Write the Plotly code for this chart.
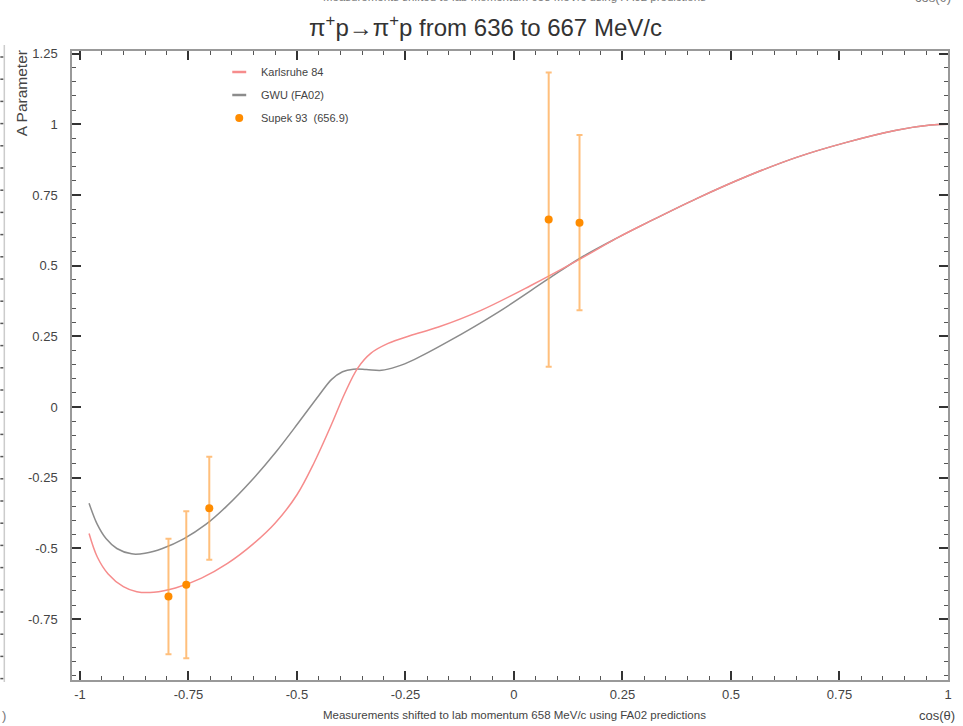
import plotly.graph_objects as go

# ---- Karlsruhe 84 partial-wave prediction (A parameter vs cos theta)
kh_cos = [-0.979, -0.960, -0.935, -0.900, -0.869, -0.830, -0.780, -0.720, -0.660,
          -0.600, -0.550, -0.500, -0.460, -0.420, -0.390, -0.360, -0.330, -0.290,
          -0.240, -0.174, -0.076, 0.039, 0.154, 0.239, 0.307, 0.422, 0.537, 0.651,
          0.766, 0.881, 0.960, 1.0]
kh_a = [-0.447, -0.530, -0.590, -0.635, -0.653, -0.655, -0.640, -0.605, -0.553,
        -0.483, -0.410, -0.310, -0.195, -0.060, 0.048, 0.138, 0.190, 0.225,
        0.252, 0.283, 0.342, 0.430, 0.525, 0.599, 0.652, 0.738, 0.816, 0.883,
        0.936, 0.979, 0.997, 1.0]

# ---- GWU (FA02) prediction
gwu_cos = [-0.979, -0.960, -0.940, -0.915, -0.881, -0.850, -0.810, -0.760, -0.710,
           -0.663, -0.603, -0.548, -0.495, -0.450, -0.420, -0.395, -0.370, -0.340,
           -0.305, -0.270, -0.230, -0.151, -0.037, 0.078, 0.154, 0.239, 0.307,
           0.422, 0.537, 0.651, 0.766, 0.881, 0.960, 1.0]
gwu_a = [-0.340, -0.415, -0.465, -0.500, -0.519, -0.517, -0.500, -0.465, -0.415,
         -0.352, -0.257, -0.158, -0.052, 0.040, 0.098, 0.125, 0.134, 0.133,
         0.130, 0.143, 0.168, 0.232, 0.335, 0.452, 0.528, 0.599, 0.652,
         0.738, 0.816, 0.883, 0.936, 0.979, 0.997, 1.0]

# ---- Supek 93 measurements (656.9 MeV/c)
sup_cos = [-0.796, -0.755, -0.702, 0.080, 0.151]
sup_a = [-0.670, -0.628, -0.358, 0.663, 0.652]
sup_err = [0.204, 0.260, 0.182, 0.520, 0.310]

x_ticks = [-1, -0.75, -0.5, -0.25, 0, 0.25, 0.5, 0.75, 1]
x_labels = ["-1", "-0.75", "-0.5", "-0.25", "0", "0.25", "0.5", "0.75", "1"]
y_ticks = [-0.75, -0.5, -0.25, 0, 0.25, 0.5, 0.75, 1, 1.25]
y_labels = ["-0.75", "-0.5", "-0.25", "0", "0.25", "0.5", "0.75", "1", "1.25"]

RED = "rgb(246,140,140)"
GRAY = "rgb(140,140,140)"
ORANGE = "rgb(255,140,0)"
ORANGE_BAR = "rgba(255,170,80,0.75)"
FONT = "Liberation Sans, Arial, sans-serif"
TXT = "#444"

W, H = 963, 726
ML, MR, MT, MB = 72, 11, 51, 46
PW, PH = W - ML - MR, H - MT - MB


def px(x):
    return (x - ML) / PW


def py(y):
    return (H - MB - y) / PH


fig = go.Figure()
fig.add_trace(go.Scatter(x=gwu_cos, y=gwu_a, mode="lines", name="GWU (FA02)",
                         line=dict(color=GRAY, width=1.5, shape="spline", smoothing=1.0),
                         showlegend=False))
fig.add_trace(go.Scatter(x=kh_cos, y=kh_a, mode="lines", name="Karlsruhe 84",
                         line=dict(color=RED, width=1.5, shape="spline", smoothing=1.0),
                         showlegend=False))
fig.add_trace(go.Scatter(x=sup_cos, y=sup_a, mode="markers", name="Supek 93  (656.9)",
                         marker=dict(color=ORANGE, size=8),
                         error_y=dict(type="data", array=sup_err, color=ORANGE_BAR,
                                      thickness=2, width=3),
                         showlegend=False))

axis_common = dict(
    showline=True, linecolor="#999", linewidth=1.5, mirror="ticks",
    ticks="inside", ticklen=9, tickcolor="#333", tickwidth=1.5,
    showgrid=False, zeroline=False,
    tickfont=dict(family=FONT, size=13, color=TXT),
    minor=dict(tickmode="linear", tick0=0, dtick=0.05, ticks="inside",
               ticklen=4, tickcolor="#555", tickwidth=1, showgrid=False),
)

fig.update_xaxes(range=[-1.0183, 1.0], tickmode="array", tickvals=x_ticks,
                 ticktext=x_labels, ticklabelstandoff=2, **axis_common)
fig.update_yaxes(range=[-0.965, 1.259], tickmode="array", tickvals=y_ticks,
                 ticktext=y_labels, ticklabelstandoff=10, **axis_common)

shapes = []
annotations = []

# legend block
legend_rows = [("Karlsruhe 84", 72, "line", RED),
               ("GWU (FA02)", 95, "line", GRAY),
               ("Supek 93  (656.9)", 118, "dot", ORANGE)]
for label, yy, kind, col in legend_rows:
    if kind == "line":
        shapes.append(dict(type="line", xref="paper", yref="paper",
                           x0=px(233), x1=px(247), y0=py(yy), y1=py(yy),
                           line=dict(color=col, width=2.5)))
    else:
        shapes.append(dict(type="circle", xref="paper", yref="paper",
                           xsizemode="pixel", ysizemode="pixel",
                           xanchor=px(240), yanchor=py(yy),
                           x0=-4, x1=4, y0=-4, y1=4,
                           fillcolor=col, line=dict(color=col, width=0)))
    annotations.append(dict(text=label, xref="paper", yref="paper",
                            x=px(260), y=py(yy), xanchor="left", yanchor="middle",
                            showarrow=False, font=dict(family=FONT, size=11, color=TXT)))

# title
annotations.append(dict(text="\u03c0<sup>+</sup>p\u2192\u03c0<sup>+</sup>p from 636 to 667 MeV/c",
                        xref="paper", yref="paper", x=px(487), y=py(26),
                        xanchor="center", yanchor="middle", showarrow=False,
                        font=dict(family=FONT, size=24, color="#333")))
# y-axis title, top aligned
annotations.append(dict(text="A Parameter", textangle=-90, xref="paper", yref="paper",
                        x=px(21), y=py(48), xanchor="center", yanchor="top",
                        showarrow=False, font=dict(family=FONT, size=15.5, color=TXT)))
# x-axis title
annotations.append(dict(text="cos(\u03b8)", xref="paper", yref="paper",
                        x=px(941), y=py(716), xanchor="center", yanchor="middle",
                        showarrow=False, font=dict(family=FONT, size=13, color=TXT)))
# footnote
annotations.append(dict(text="Measurements shifted to lab momentum 658 MeV/c using FA02 predictions",
                        xref="paper", yref="paper", x=px(517), y=py(715),
                        xanchor="center", yanchor="middle", showarrow=False,
                        font=dict(family=FONT, size=11.5, color=TXT)))

# neighbouring panels peeking in at the page edges
annotations.append(dict(text="Measurements shifted to lab momentum 658 MeV/c using FA02 predictions",
                        xref="paper", yref="paper", x=px(517), y=py(-3),
                        xanchor="center", yanchor="middle", showarrow=False,
                        font=dict(family=FONT, size=11.5, color="#777")))
annotations.append(dict(text="cos(\u03b8)", xref="paper", yref="paper",
                        x=px(937), y=py(-2), xanchor="center", yanchor="middle",
                        showarrow=False, font=dict(family=FONT, size=13, color="#777")))
annotations.append(dict(text=")", xref="paper", yref="paper",
                        x=px(0), y=py(715), xanchor="left", yanchor="middle",
                        showarrow=False, font=dict(family=FONT, size=13, color="#777")))
shapes.append(dict(type="line", xref="paper", yref="paper",
                   x0=px(4), x1=px(4), y0=py(45), y1=py(682),
                   line=dict(color="#ccc", width=1.5)))
k = 0
while 57 + 22.2 * k < 680:
    yy = 57 + 22.2 * k
    shapes.append(dict(type="line", xref="paper", yref="paper",
                       x0=px(0), x1=px(3), y0=py(yy), y1=py(yy),
                       line=dict(color="#555", width=1.5)))
    k += 1

fig.update_layout(
    width=W, height=H,
    margin=dict(l=ML, r=MR, t=MT, b=MB),
    paper_bgcolor="white", plot_bgcolor="white",
    showlegend=False,
    shapes=shapes, annotations=annotations,
    font=dict(family=FONT, color=TXT),
)

fig.write_html("out.html")
